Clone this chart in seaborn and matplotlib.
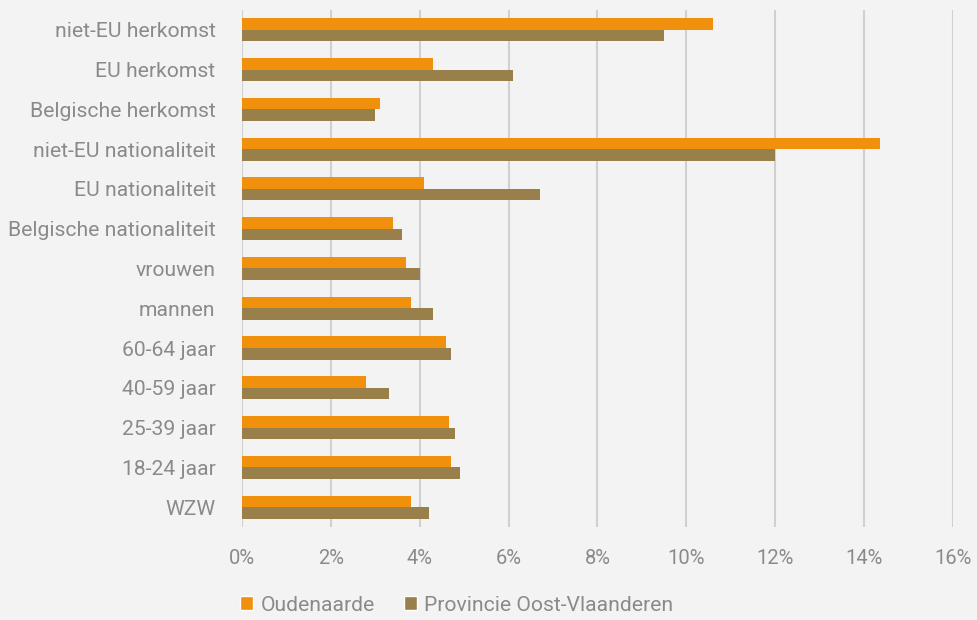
import matplotlib
matplotlib.use("Agg")
import matplotlib.pyplot as plt
import seaborn as sns
import pandas as pd
from matplotlib.ticker import FuncFormatter
from matplotlib.patches import Patch

categories = ["niet-EU herkomst", "EU herkomst", "Belgische herkomst",
              "niet-EU nationaliteit", "EU nationaliteit", "Belgische nationaliteit",
              "vrouwen", "mannen", "60-64 jaar", "40-59 jaar", "25-39 jaar",
              "18-24 jaar", "WZW"]
oudenaarde = [10.6, 4.3, 3.1, 14.35, 4.1, 3.4, 3.7, 3.8, 4.6, 2.8, 4.65, 4.7, 3.8]
provincie = [9.5, 6.1, 3.0, 12.0, 6.7, 3.6, 4.0, 4.3, 4.7, 3.3, 4.8, 4.9, 4.2]
series_names = ["Oudenaarde", "Provincie Oost-Vlaanderen"]
xticks = [0, 2, 4, 6, 8, 10, 12, 14, 16]

df = pd.DataFrame({
    "cat": categories * 2,
    "val": oudenaarde + provincie,
    "serie": [series_names[0]] * len(categories) + [series_names[1]] * len(categories),
})

sns.set_theme(style="white")
plt.rcParams["font.family"] = ["Roboto", "DejaVu Sans"]

bg = "#f3f3f3"
orange = "#f0900c"
brown = "#99804a"
txt = "#8a8a8a"
fig = plt.figure(figsize=(9.77, 6.2), dpi=100, facecolor=bg)
ax = fig.add_axes([0.2477, 0.15, 0.7277, 0.834])
ax.set_facecolor(bg)

sns.barplot(data=df, y="cat", x="val", hue="serie", order=categories,
            hue_order=series_names, palette=[orange, brown],
            width=0.58, saturation=1, ax=ax, legend=False, orient="h",
            linewidth=0, edgecolor="none")

ax.set_xlim(0, 16)
ax.set_xticks(xticks)
ax.xaxis.set_major_formatter(FuncFormatter(lambda v, p: f"{int(v)}%"))
ax.set_ylim(len(categories) - 0.5, -0.5)
ax.grid(axis="x", color="#d0d0d0", linewidth=1.5)
ax.set_axisbelow(True)
for s in ax.spines.values():
    s.set_visible(False)
ax.set_xlabel("")
ax.set_ylabel("")
ax.tick_params(axis="x", length=0, pad=16, labelsize=14.5, labelcolor=txt)
ax.tick_params(axis="y", length=0, pad=19, labelsize=15.2, labelcolor=txt)

handles = [Patch(facecolor=orange), Patch(facecolor=brown)]
fig.legend(handles, series_names, loc="center left", bbox_to_anchor=(0.231, 0.024),
           ncol=2, frameon=False, fontsize=15.2, labelcolor=txt,
           handlelength=0.6, handleheight=0.6, handletextpad=0.35, columnspacing=1.4,
           borderpad=0.2)

fig.savefig("out.png", dpi=100, facecolor=bg)
